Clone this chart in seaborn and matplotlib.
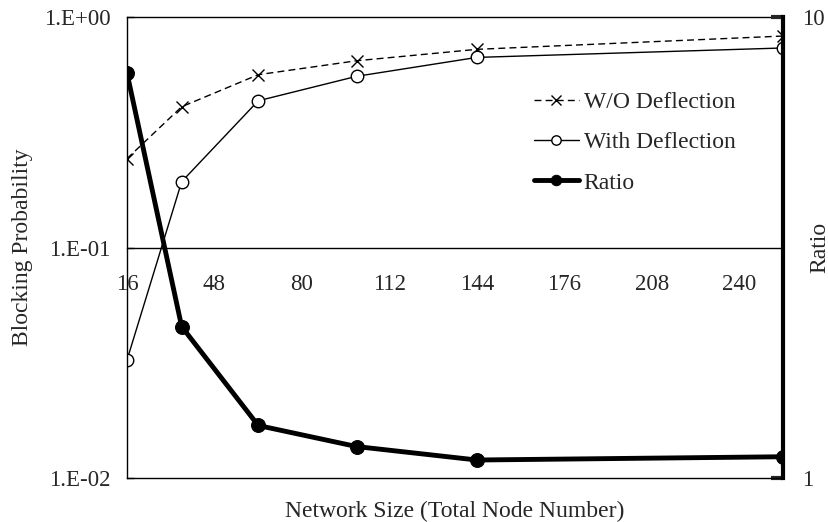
import matplotlib
matplotlib.use("Agg")
import matplotlib.pyplot as plt
import matplotlib.ticker as mticker
import pandas as pd
import seaborn as sns

# data
node_count = [16, 36, 64, 100, 144, 256]
wo_deflection = [0.243, 0.408, 0.562, 0.646, 0.724, 0.827]
with_deflection = [0.0325, 0.193, 0.433, 0.553, 0.668, 0.734]
ratio = [7.56, 2.13, 1.30, 1.17, 1.094, 1.112]

x_ticks = [16, 48, 80, 112, 144, 176, 208, 240]
left_ticks = [0.01, 0.1, 1.0]
left_labels = ["1.E-02", "1.E-01", "1.E+00"]
right_ticks = [1, 10]
right_labels = ["1", "10"]

df = pd.DataFrame({"nodes": node_count, "wo": wo_deflection,
                   "with": with_deflection, "ratio": ratio})

sns.set_style("white")
plt.rcParams["font.family"] = ["Liberation Serif", "DejaVu Serif"]
fs = 17
tfs = 16.5

fig = plt.figure(figsize=(8.29, 5.22), dpi=100)
ax = fig.add_axes([0.1532, 0.0843, 0.7913, 0.8831])
ax2 = ax.twinx()

sns.lineplot(data=df, x="nodes", y="wo", ax=ax, color="black", lw=1,
             linestyle=(0, (5, 3)), marker="x", markersize=9, mew=1,
             mec="black", label="W/O Deflection")
sns.lineplot(data=df, x="nodes", y="with", ax=ax, color="black", lw=1,
             marker="o", markersize=9, mfc="white", mec="black", mew=1,
             label="With Deflection")
sns.lineplot(data=df, x="nodes", y="ratio", ax=ax2, color="black", lw=3.5,
             marker="o", markersize=10, mec="black",
             label="Ratio")

ax.set_yscale("log")
ax2.set_yscale("log")
ax.set_ylim(0.01, 1)
ax2.set_ylim(1, 10)
ax.set_xlim(16, 256)

ax.set_xticks(x_ticks)
ax.yaxis.set_major_locator(mticker.FixedLocator(left_ticks))
ax.yaxis.set_major_formatter(mticker.FixedFormatter(left_labels))
ax.yaxis.set_minor_locator(mticker.NullLocator())
ax2.yaxis.set_major_locator(mticker.FixedLocator(right_ticks))
ax2.yaxis.set_major_formatter(mticker.FixedFormatter(right_labels))
ax2.yaxis.set_minor_locator(mticker.NullLocator())

# x axis line crosses at 1.E-01, box bottom comes from the twin axes
ax.spines["bottom"].set_position(("data", 0.1))
for s in ["left", "top", "bottom"]:
    ax.spines[s].set_color("black")
    ax.spines[s].set_linewidth(1)
ax.spines["right"].set_visible(False)
for s in ["left", "top"]:
    ax2.spines[s].set_visible(False)
ax2.spines["bottom"].set_color("black")
ax2.spines["bottom"].set_linewidth(1)
ax2.spines["right"].set_color("black")
ax2.spines["right"].set_linewidth(3)

ax.tick_params(axis="x", direction="in", length=8, width=1, pad=19, labelsize=tfs)
ax.tick_params(axis="y", direction="in", length=5, width=1, pad=12, labelsize=tfs)
ax2.tick_params(axis="y", direction="in", length=9, width=3, pad=14, labelsize=tfs)

ax.set_xlabel("Network Size (Total Node Number)", fontsize=fs)
ax.xaxis.set_label_coords(0.5, -0.05)
ax.set_ylabel("Blocking Probability", fontsize=fs)
ax.yaxis.set_label_coords(-0.143, 0.5)
ax2.set_ylabel("Ratio", fontsize=fs)
ax2.yaxis.set_label_coords(1.04, 0.5)

h1, l1 = ax.get_legend_handles_labels()
h2, l2 = ax2.get_legend_handles_labels()
if ax2.get_legend():
    ax2.get_legend().remove()
ax.legend(h1 + h2, l1 + l2, loc="upper left", bbox_to_anchor=(0.588, 0.885),
          frameon=False, handlelength=1.9, handletextpad=0.2,
          labelspacing=0.8, markerscale=0.75, fontsize=fs)

fig.savefig("out.png", dpi=100)
